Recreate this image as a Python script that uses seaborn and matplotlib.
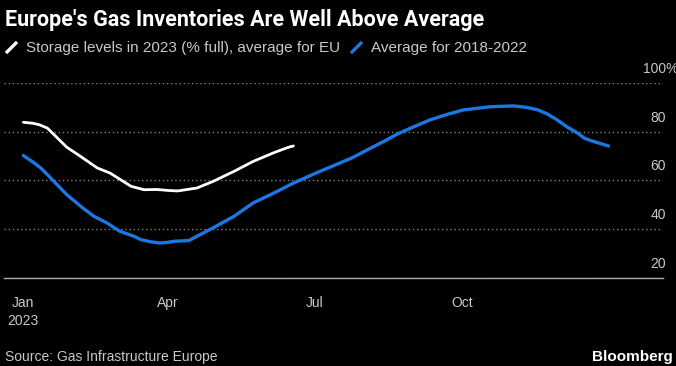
import pandas as pd
import numpy as np
import matplotlib
matplotlib.use("Agg")
import matplotlib.pyplot as plt
import matplotlib.transforms as mtransforms
from matplotlib.lines import Line2D
from matplotlib.path import Path
import seaborn as sns

# 2023 storage levels (% full), EU average
dates_2023 = ["2023-01-01", "2023-01-07", "2023-01-11", "2023-01-16", "2023-01-22",
              "2023-01-28", "2023-02-05", "2023-02-16", "2023-02-24", "2023-03-02",
              "2023-03-09", "2023-03-17", "2023-03-25", "2023-04-01", "2023-04-07",
              "2023-04-19", "2023-04-29", "2023-05-12", "2023-05-24", "2023-06-06",
              "2023-06-15", "2023-06-18"]
levels_2023 = [83.8, 83.4, 82.8, 81.4, 77.5, 73.6, 70.1, 65.1, 63.0, 60.5,
               57.6, 56.2, 56.3, 55.9, 55.7, 56.9, 59.6, 63.7, 67.8, 71.4,
               73.6, 74.1]

# 2018-2022 average, mapped onto the 2023 calendar
dates_avg = ["2023-01-01", "2023-01-07", "2023-01-12", "2023-01-18", "2023-01-28",
             "2023-02-07", "2023-02-14", "2023-02-22", "2023-03-02", "2023-03-11",
             "2023-03-15", "2023-03-21", "2023-03-27", "2023-03-31", "2023-04-05",
             "2023-04-14", "2023-04-29", "2023-05-12", "2023-05-24", "2023-06-06",
             "2023-06-18", "2023-07-03", "2023-07-11", "2023-07-24", "2023-08-05",
             "2023-08-13", "2023-08-22", "2023-09-01", "2023-09-11", "2023-09-22",
             "2023-10-02", "2023-10-10", "2023-10-19", "2023-11-02", "2023-11-10",
             "2023-11-17", "2023-11-23", "2023-11-29", "2023-12-05", "2023-12-12",
             "2023-12-16", "2023-12-20", "2023-12-24", "2023-12-31"]
levels_avg = [70.2, 67.5, 65.0, 61.0, 54.2, 48.7, 45.3, 42.6, 39.2, 37.1,
              35.8, 34.9, 34.4, 34.6, 35.1, 35.4, 40.6, 45.3, 50.8, 54.9,
              58.9, 63.3, 65.5, 69.1, 73.2, 75.9, 79.1, 82.0, 84.8, 87.1,
              88.9, 89.5, 90.2, 90.5, 89.9, 88.9, 87.2, 84.8, 82.0, 79.3,
              77.3, 76.3, 75.5, 74.1]

x_ticks = ["2023-01-01", "2023-04-01", "2023-07-01", "2023-10-01"]
x_labels = ["Jan\n2023", "Apr", "Jul", "Oct"]
y_ticks = [20, 40, 60, 80, 100]
y_labels = ["20", "40", "60", "80", "100%"]

WHITE = "#ffffff"
BLUE = "#1b77e2"
GREY = "#c8c8c8"

sns.set_style("dark")
plt.rcParams["font.family"] = ["Liberation Sans", "DejaVu Sans"]

df_2023 = pd.DataFrame({"date": pd.to_datetime(dates_2023), "pct": levels_2023})
df_avg = pd.DataFrame({"date": pd.to_datetime(dates_avg), "pct": levels_avg})

fig = plt.figure(figsize=(6.76, 3.66), dpi=100, facecolor="black")
ax = fig.add_axes([0.006, 0.240, 0.975, 0.534])
ax.set_facecolor("black")

sns.lineplot(data=df_avg, x="date", y="pct", ax=ax, color=BLUE, linewidth=2.4)
sns.lineplot(data=df_2023, x="date", y="pct", ax=ax, color=WHITE, linewidth=2.0)

ax.set_xlim(pd.Timestamp("2022-12-20"), pd.Timestamp("2024-02-03"))
ax.set_ylim(20, 100)
ax.set_xlabel("")
ax.set_ylabel("")

# grid and spines
ax.grid(False)
ax.yaxis.grid(True, linestyle=(0, (1, 2)), color="#808080", linewidth=1.0)
for side in ["top", "left", "right"]:
    ax.spines[side].set_visible(False)
ax.spines["bottom"].set_color("#aaaaaa")
ax.spines["bottom"].set_linewidth(1.0)

# x axis
ax.set_xticks(pd.to_datetime(x_ticks), labels=x_labels)
ax.tick_params(axis="x", direction="out", length=5, width=1, color="#aaaaaa",
               labelcolor=GREY, labelsize=10, pad=8)
for lab in ax.get_xticklabels():
    lab.set_linespacing(1.35)
    lab.set_verticalalignment("top")

# y axis labels sit inside the plot, above each grid line
ax.yaxis.tick_right()
ax.set_yticks(y_ticks, labels=y_labels)
ax.tick_params(axis="y", length=0, labelcolor=GREY, labelsize=10, pad=2)
lift = mtransforms.ScaledTranslation(0, 5 / 72, fig.dpi_scale_trans)
for lab in ax.get_yticklabels():
    lab.set_horizontalalignment("right")
    lab.set_verticalalignment("bottom")
    shift = lift
    if lab.get_text().endswith("%"):
        shift = lift + mtransforms.ScaledTranslation(9 / 72, 0, fig.dpi_scale_trans)
    lab.set_transform(lab.get_transform() + shift)

# title and legend
fig.text(0.008, 0.975, "Europe's Gas Inventories Are Well Above Average",
         ha="left", va="top", color=WHITE, fontsize=15.5, fontweight="bold",
         family=["Liberation Sans Narrow", "Roboto", "DejaVu Sans"])

slash = Path([(-1, -1), (1, 1)], [Path.MOVETO, Path.LINETO])
handles = [
    Line2D([], [], linestyle="none", marker=slash, markersize=8,
           markeredgewidth=2.4, markeredgecolor=WHITE),
    Line2D([], [], linestyle="none", marker=slash, markersize=8,
           markeredgewidth=2.4, markeredgecolor=BLUE),
]
fig.legend(handles, ["Storage levels in 2023 (% full), average for EU",
                     "Average for 2018-2022"],
           loc="upper left", bbox_to_anchor=(0.0, 0.888), ncol=2,
           frameon=False, fontsize=11, labelcolor=GREY,
           handlelength=1.5, handletextpad=0.2, columnspacing=0.3,
           borderaxespad=0, borderpad=0)

fig.text(0.008, 0.014, "Source: Gas Infrastructure Europe", ha="left",
         va="baseline", color=GREY, fontsize=10)
fig.text(0.995, 0.014, "Bloomberg", ha="right", va="baseline", color=WHITE,
         fontsize=11, fontweight="bold")

fig.savefig("out.png", dpi=100, facecolor="black")
